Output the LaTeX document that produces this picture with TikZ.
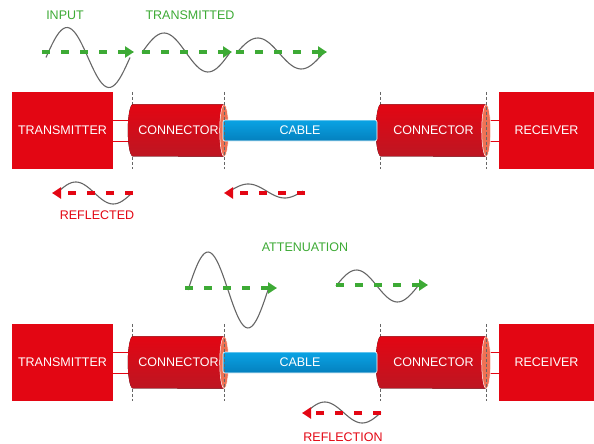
\documentclass[tikz,border=0pt]{standalone}
\usepackage{fontspec}
\setmainfont{Liberation Sans}
\usetikzlibrary{arrows.meta,backgrounds}
\definecolor{myred}{HTML}{E30613}
\definecolor{mydarkred}{HTML}{BD1622}
\definecolor{mysalmon}{HTML}{EF7154}
\definecolor{myblue}{HTML}{0AA3E4}
\definecolor{mydarkblue}{HTML}{0480BE}
\definecolor{mygreen}{HTML}{3DAA35}
\colorlet{mygray}{black!60}

\begin{document}
\begin{tikzpicture}[x=1pt,y=-1pt,font=\fontsize{12.5}{15}\selectfont]
\useasboundingbox (0,0) rectangle (594,444);
\tikzset{UnitStyle/.style={rectangle, inner sep=0, fill=myred, text=white, minimum height=77pt},
  ConnStyle/.style={rectangle, inner sep=0, text=white, minimum height=52pt},
  CableStyle/.style={rectangle, inner sep=0, rounded corners=2pt, top color=myblue, bottom color=mydarkblue, draw=white, line width=0.6pt, text=white, minimum width=154pt, minimum height=21pt},
  BodyStyle/.style={top color=myred, bottom color=mydarkred},
  RingStyle/.style={fill=mysalmon, draw=white, line width=0.5pt},
  LeadStyle/.style={myred, line width=1pt},
  CutStyle/.style={mygray, line width=0.8pt, dash pattern=on 3pt off 2pt},
  WaveStyle/.style={mygray, line width=1.1pt, smooth, samples=40, domain=0:360},
  SendStyle/.style={mygreen, line width=4.5pt, dash pattern=on 8pt off 11pt, -{Triangle[length=9pt,width=11pt]}},
  BackStyle/.style={myred, line width=4.5pt, dash pattern=on 8pt off 11pt, -{Triangle[length=9pt,width=11pt]}}}
\node[UnitStyle, minimum width=101pt] (tx1) at (62.5,130.5) {TRANSMITTER};
\node[ConnStyle, minimum width=91pt] (conA1) at (178.5,130.5) {CONNECTOR};
\filldraw[RingStyle] (conA1.east) ellipse (4.5pt and 26pt);
\node[CableStyle] (cab1) at (300,130.5) {CABLE};
\node[ConnStyle, minimum width=105pt] (conB1) at (433.5,130.5) {CONNECTOR};
\filldraw[RingStyle] (conB1.east) ellipse (4.5pt and 26pt);
\node[UnitStyle, minimum width=95pt] (rx1) at (546.5,130.5) {RECEIVER};
\node[UnitStyle, minimum width=101pt] (tx2) at (62.5,362.5) {TRANSMITTER};
\node[ConnStyle, minimum width=91pt] (conA2) at (178.5,362.5) {CONNECTOR};
\filldraw[RingStyle] (conA2.east) ellipse (4.5pt and 26pt);
\node[CableStyle] (cab2) at (300,362.5) {CABLE};
\node[ConnStyle, minimum width=105pt] (conB2) at (433.5,362.5) {CONNECTOR};
\filldraw[RingStyle] (conB2.east) ellipse (4.5pt and 26pt);
\node[UnitStyle, minimum width=95pt] (rx2) at (546.5,362.5) {RECEIVER};
\begin{pgfonlayer}{background}
\draw[LeadStyle] ([yshift=10.5pt]tx1.east) -- ([yshift=10.5pt]conA1.west);
\draw[LeadStyle] ([yshift=-10.5pt]tx1.east) -- ([yshift=-10.5pt]conA1.west);
\draw[LeadStyle] ([yshift=10.5pt]conB1.east) -- ([yshift=10.5pt]rx1.west);
\draw[LeadStyle] ([yshift=-10.5pt]conB1.east) -- ([yshift=-10.5pt]rx1.west);
\draw[LeadStyle] ([yshift=10.5pt]tx2.east) -- ([yshift=10.5pt]conA2.west);
\draw[LeadStyle] ([yshift=-10.5pt]tx2.east) -- ([yshift=-10.5pt]conA2.west);
\draw[LeadStyle] ([yshift=10.5pt]conB2.east) -- ([yshift=10.5pt]rx2.west);
\draw[LeadStyle] ([yshift=-10.5pt]conB2.east) -- ([yshift=-10.5pt]rx2.west);
\draw[CutStyle] (conA1.west |- tx1.north) -- (conA1.west |- tx1.south);
\draw[CutStyle] (conB1.west |- tx1.north) -- (conB1.west |- tx1.south);
\draw[CutStyle] (conA2.west |- tx2.north) -- (conA2.west |- tx2.south);
\draw[CutStyle] (conB2.west |- tx2.north) -- (conB2.west |- tx2.south);
\fill[BodyStyle] (conA1.north west) arc[start angle=90, end angle=270, x radius=5pt, y radius=26pt] -- (conA1.south east) -- (conA1.north east) -- cycle;
\fill[BodyStyle] (conB1.north west) arc[start angle=90, end angle=270, x radius=5pt, y radius=26pt] -- (conB1.south east) -- (conB1.north east) -- cycle;
\fill[BodyStyle] (conA2.north west) arc[start angle=90, end angle=270, x radius=5pt, y radius=26pt] -- (conA2.south east) -- (conA2.north east) -- cycle;
\fill[BodyStyle] (conB2.north west) arc[start angle=90, end angle=270, x radius=5pt, y radius=26pt] -- (conB2.south east) -- (conB2.north east) -- cycle;
\end{pgfonlayer}
\draw[CutStyle] (conA1.east |- tx1.north) -- (conA1.east |- tx1.south);
\draw[CutStyle] (conB1.east |- tx1.north) -- (conB1.east |- tx1.south);
\draw[CutStyle] (conA2.east |- tx2.north) -- (conA2.east |- tx2.south);
\draw[CutStyle] (conB2.east |- tx2.north) -- (conB2.east |- tx2.south);
\node[text=mygreen] (input) at (65,15) {INPUT};
\node[text=mygreen] (transmitted) at (190,15) {TRANSMITTED};
\node[text=myred] (reflected) at (97,215) {REFLECTED};
\node[text=mygreen] (attenuation) at (305,247) {ATTENUATION};
\node[text=myred] (reflection) at (343,437) {REFLECTION};
\coordinate (in0) at (42,52);
\coordinate (in1) at (134,52);
\coordinate (tr0) at (142,52);
\coordinate (tr1) at (232,52);
\coordinate (tr2) at (236,52);
\coordinate (tr3) at (327,52);
\coordinate (rf0) at (133,193);
\coordinate (rf1) at (52,193);
\coordinate (rf2) at (305,193);
\coordinate (rf3) at (224,193);
\coordinate (at0) at (185,288);
\coordinate (at1) at (277,288);
\coordinate (at2) at (336,285);
\coordinate (at3) at (428,285);
\coordinate (rn0) at (381,413);
\coordinate (rn1) at (302,413);
\draw[WaveStyle] plot ({46+\x/360*84},{57.5-30*sin(\x)});
\draw[WaveStyle] plot ({142+\x/360*88},{52.5-19.5*sin(\x)});
\draw[WaveStyle] plot ({236+\x/360*87},{53.5-15.5*sin(\x)});
\draw[WaveStyle] plot ({57+\x/360*75},{193-11*sin(\x)});
\draw[WaveStyle] plot ({230+\x/360*73},{191-7*sin(\x)});
\draw[WaveStyle] plot ({188+\x/360*80},{290-38*sin(\x)});
\draw[WaveStyle] plot ({336+\x/360*82},{286-16*sin(\x)});
\draw[WaveStyle] plot ({306+\x/360*75},{412.5-10.5*sin(\x)});
\draw[SendStyle] (in0) -- (in1);
\draw[SendStyle] (tr0) -- (tr1);
\draw[SendStyle] (tr2) -- (tr3);
\draw[BackStyle] (rf0) -- (rf1);
\draw[BackStyle] (rf2) -- (rf3);
\draw[SendStyle] (at0) -- (at1);
\draw[SendStyle] (at2) -- (at3);
\draw[BackStyle] (rn0) -- (rn1);
\end{tikzpicture}
\end{document}
